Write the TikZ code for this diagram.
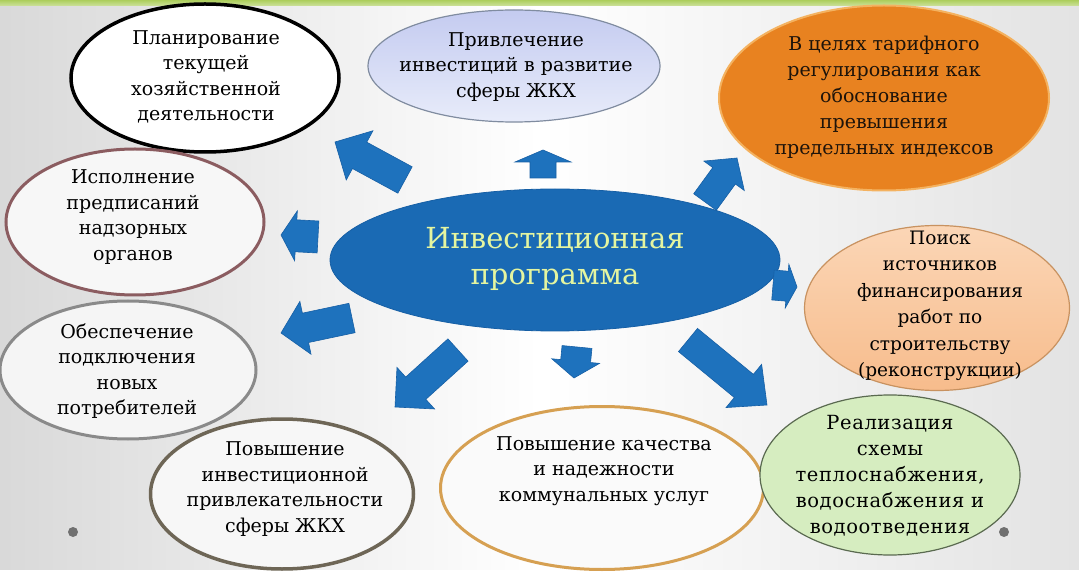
\documentclass[tikz,border=0pt]{standalone}
\usepackage{fontspec}
\setmainfont{DejaVu Serif}
\usetikzlibrary{shapes.geometric,calc}
\definecolor{arrblue}{RGB}{30,114,189}
\definecolor{arredge}{RGB}{22,95,165}
\definecolor{cblue}{RGB}{26,106,180}
\definecolor{ctext}{RGB}{228,245,160}
\definecolor{orangeF}{RGB}{232,130,32}
\definecolor{orangeD}{RGB}{244,178,96}
\definecolor{maroon}{RGB}{139,92,96}
\definecolor{grayB}{RGB}{138,138,138}
\definecolor{brownB}{RGB}{110,102,86}
\definecolor{goldB}{RGB}{214,160,82}
\definecolor{peachT}{RGB}{251,214,182}
\definecolor{peachB}{RGB}{247,188,140}
\definecolor{peachD}{RGB}{200,146,96}
\definecolor{greenF}{RGB}{214,237,192}
\definecolor{greenD}{RGB}{90,106,80}
\definecolor{lavT}{RGB}{196,203,240}
\definecolor{lavB}{RGB}{232,236,250}
\definecolor{lavD}{RGB}{128,140,160}
\definecolor{stripG}{RGB}{172,206,92}
\definecolor{dotG}{RGB}{112,112,112}
\tikzset{
  ell/.style={ellipse, inner sep=0pt},
  txt/.style={align=center, font=\fontsize{19}{25.5}\selectfont, inner sep=0pt},
  arr/.style={fill=arrblue, draw=arredge, line width=0.6pt, line join=miter},
}
\newcommand\blockarrow[5]{%
  \coordinate (hb) at ($(#2)!#5!(#1)$);
  \path[arr] ($(#1)!#3!90:(#2)$) -- ($(hb)!#3!90:(#2)$) -- ($(hb)!#4!90:(#2)$)
    -- (#2) -- ($(hb)!#4!-90:(#2)$) -- ($(hb)!#3!-90:(#2)$) -- ($(#1)!#3!-90:(#2)$) -- cycle;
}
\begin{document}
\begin{tikzpicture}[x=1pt,y=-1pt]
\useasboundingbox (0,0) rectangle (1079,585);
% background
\shade[left color=black!15, right color=black!11, middle color=white] (0,0) rectangle (1079,570);
\fill[white] (0,570) rectangle (1079,585);
\shade[top color=stripG, bottom color=stripG!60] (0,0) rectangle (1079,6);
\fill[dotG] (73,532) circle (5);
\fill[dotG] (1004,532) circle (5);

% central ellipse
\node[ell, fill=cblue, draw=arredge, line width=0.8pt, minimum width=450pt, minimum height=142pt] (c) at (555,260) {};
\node[align=center, text=ctext, font=\fontsize{29}{36}\selectfont, inner sep=0pt] (ct) at (555,259) {Инвестиционная\\программа};

% outer ellipses
\node[ell, fill=white, draw=black, line width=3.5pt, minimum width=268pt, minimum height=148pt] (e1) at (205,78) {};
\node[txt] (t1) at (206,77) {Планирование\\текущей\\хозяйственной\\деятельности};

\node[ell, top color=lavT, bottom color=lavB, draw=lavD, line width=1.2pt, minimum width=292pt, minimum height=112pt] (e2) at (514,66) {};
\node[txt] (t2) at (516,67) {Привлечение\\инвестиций в развитие\\сферы ЖКХ};

\node[ell, fill=orangeF, draw=orangeD, line width=2pt, minimum width=330pt, minimum height=185pt] (e3) at (884,98) {};
\node[txt, text=black!85!brown, font=\fontsize{19}{26}\selectfont] (t3) at (884,97) {В целях тарифного\\регулирования как\\обоснование\\превышения\\предельных индексов};

\node[ell, fill=white!97!black, draw=maroon, line width=3pt, minimum width=258pt, minimum height=146pt] (e4) at (135,222) {};
\node[txt] (t4) at (133,217) {Исполнение\\предписаний\\надзорных\\органов};

\node[ell, fill=white!96!black, draw=grayB, line width=3pt, minimum width=256pt, minimum height=138pt] (e5) at (128,370) {};
\node[txt] (t5) at (127,371) {Обеспечение\\подключения\\новых\\потребителей};

\node[ell, fill=white!97!black, draw=brownB, line width=3.5pt, minimum width=263pt, minimum height=150pt] (e6) at (282,494) {};
\node[txt] (t6) at (285,489) {Повышение\\инвестиционной\\привлекательности\\сферы ЖКХ};

\node[ell, fill=white!98!black, draw=goldB, line width=3pt, minimum width=323pt, minimum height=163pt] (e7) at (602,488) {};
\node[txt] (t7) at (604,471) {Повышение качества\\и надежности\\коммунальных услуг};

\node[ell, top color=peachT, bottom color=peachB, draw=peachD, line width=1.2pt, minimum width=265pt, minimum height=165pt] (e8) at (937,308) {};
\node[txt, font=\fontsize{18.5}{26.5}\selectfont] (t8) at (940,306) {Поиск\\источников\\финансирования\\работ по\\строительству\\(реконструкции)};

\node[ell, fill=greenF, draw=greenD, line width=1.2pt, minimum width=260pt, minimum height=160pt] (e9) at (890,475) {};
\node[txt, font=\fontsize{19.5}{26}\selectfont\addfontfeatures{LetterSpace=3}] (t9) at (890,476) {Реализация\\схемы\\теплоснабжения,\\водоснабжения и\\водоотведения};

% arrows
\coordinate (a1s) at (405,180); \coordinate (a1e) at (335,142);
\coordinate (a2s) at (543,178); \coordinate (a2e) at (543,150);
\coordinate (a3s) at (705,202); \coordinate (a3e) at (737,158);
\coordinate (a4s) at (318,237); \coordinate (a4e) at (281,235);
\coordinate (a5s) at (773,285); \coordinate (a5e) at (797,287);
\coordinate (a6s) at (352,318); \coordinate (a6e) at (281,333);
\coordinate (a7s) at (458,350); \coordinate (a7e) at (395,407);
\coordinate (a8s) at (577,347); \coordinate (a8e) at (574,378);
\coordinate (a9s) at (688,340); \coordinate (a9e) at (767,405);
\blockarrow{a1s}{a1e}{15pt}{28pt}{28pt}
\blockarrow{a2s}{a2e}{13pt}{28pt}{12pt}
\blockarrow{a3s}{a3e}{14pt}{25pt}{22pt}
\blockarrow{a4s}{a4e}{16pt}{25pt}{15pt}
\blockarrow{a5s}{a5e}{15pt}{22pt}{10pt}
\blockarrow{a6s}{a6e}{15pt}{27pt}{25pt}
\blockarrow{a7s}{a7e}{15pt}{28pt}{28pt}
\blockarrow{a8s}{a8e}{15pt}{24pt}{17pt}
\blockarrow{a9s}{a9e}{15pt}{28pt}{30pt}
\end{tikzpicture}
\end{document}
